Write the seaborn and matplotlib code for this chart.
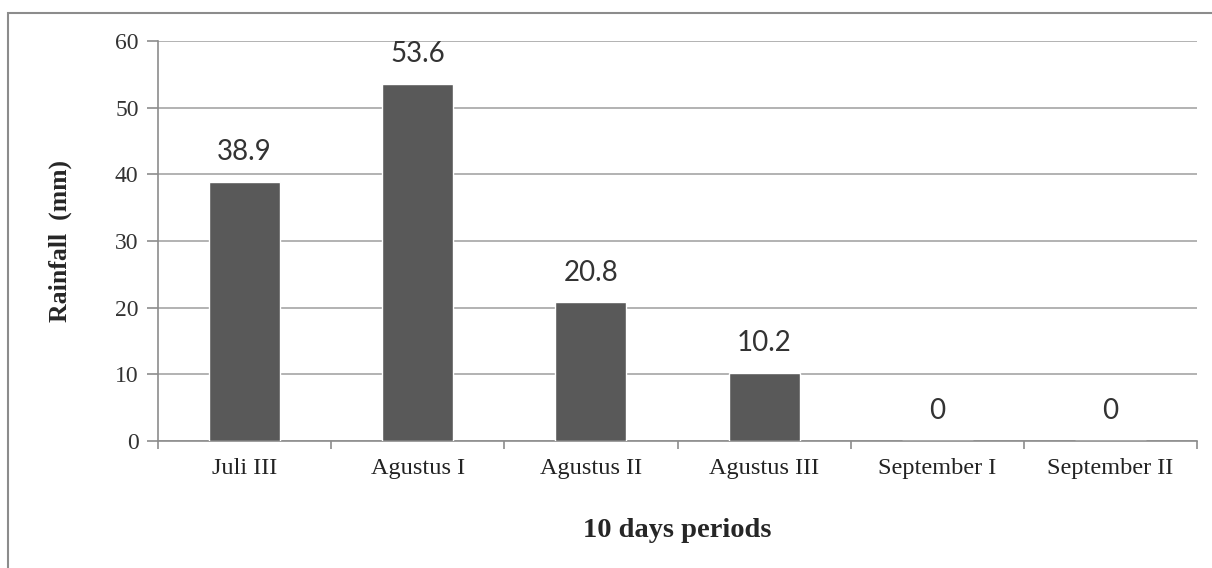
import matplotlib
matplotlib.use('Agg')
import matplotlib.pyplot as plt
import seaborn as sns
import pandas as pd
from matplotlib.patches import Rectangle

# ========== DATA ==========
periods = ['Juli III', 'Agustus I', 'Agustus II', 'Agustus III', 'September I', 'September II']
rainfall = [38.9, 53.6, 20.8, 10.2, 0, 0]
value_labels = ['38.9', '53.6', '20.8', '10.2', '0', '0']
y_ticks = [0, 10, 20, 30, 40, 50, 60]

df = pd.DataFrame({'period': periods, 'rainfall': rainfall})

sns.set_style('white')
plt.rcParams['font.family'] = ['Liberation Serif', 'DejaVu Serif']

fig = plt.figure(figsize=(12.12, 5.68), dpi=100)
ax = fig.add_axes([0.1304, 0.2236, 0.8572, 0.7042])

sns.barplot(data=df, x='period', y='rainfall', color='#595959', width=0.41,
            saturation=1, ax=ax, zorder=3)

# ========== AXES ==========
ax.set_ylim(0, 60)
ax.set_xlim(-0.5, len(periods) - 0.5)
ax.set_yticks(y_ticks)
ax.set_yticklabels([str(t) for t in y_ticks], fontsize=17, color='#333333')
ax.yaxis.grid(True, color='#a6a6a6', linewidth=1.2, zorder=0)
ax.set_axisbelow(True)

for s in ['top', 'right']:
    ax.spines[s].set_visible(False)
for s in ['left', 'bottom']:
    ax.spines[s].set_color('#8c8c8c')
    ax.spines[s].set_linewidth(1.2)

ax.tick_params(axis='y', length=8, width=1.2, color='#8c8c8c', pad=6, left=True)
ax.set_xticks(range(len(periods)))
ax.set_xticklabels(periods, fontsize=17.5, color='#222222')
ax.tick_params(axis='x', length=0, pad=12)
# category boundary ticks
ax.set_xticks([i - 0.5 for i in range(len(periods) + 1)], minor=True)
ax.tick_params(axis='x', which='minor', length=6, width=1.2, color='#8c8c8c', bottom=True)

ax.set_xlabel('10 days periods', fontsize=20.5, fontweight='bold', labelpad=28)
ax.set_ylabel('Rainfall  (mm)', fontsize=18.5, fontweight='bold', labelpad=31)

# ========== VALUE LABELS ==========
for i, (v, lab) in enumerate(zip(rainfall, value_labels)):
    ax.text(i, v + 2.5, lab, ha='center', va='bottom', fontsize=20,
            family=['Lato', 'DejaVu Sans'], color='#333333')

# frame around the chart area
fig.patches.append(Rectangle((8 / 1212, -0.1), 1.2, 1 - 13 / 568 + 0.1,
                             transform=fig.transFigure, fill=False,
                             edgecolor='#8c8c8c', linewidth=1.5))

plt.savefig('out.png', dpi=100)
